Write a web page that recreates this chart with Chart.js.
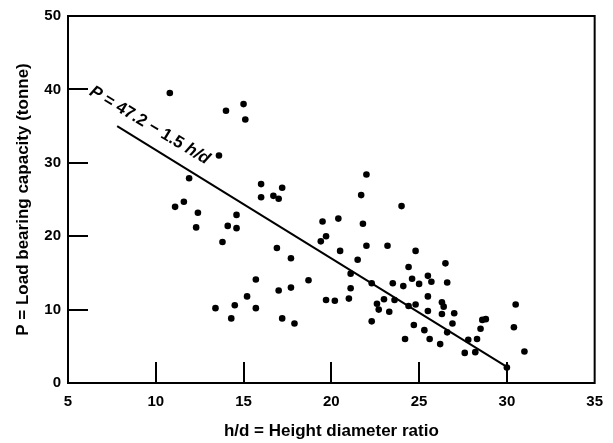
<!DOCTYPE html>
<html>
<head>
<meta charset="utf-8">
<style>
  html, body { margin: 0; padding: 0; background: #fff; }
  #wrap { width: 613px; height: 443px; }
</style>
</head>
<body>
<div id="wrap"><canvas id="chart-load"></canvas></div>
<script src="https://cdn.jsdelivr.net/npm/chart.js@4.4.0/dist/chart.umd.min.js"></script>
<script>
// h/d ratio and load bearing capacity (tonne) for each test
var hdRatio = [
    10.8, 14.0, 15.0, 15.1, 13.6, 11.9, 16.0, 17.2, 16.0, 16.7, 17.0, 11.1, 11.6, 12.4, 14.6,
    12.3, 14.1, 14.6, 13.8, 16.9, 17.7, 15.7, 18.7, 17.0, 17.7, 15.2, 13.4, 14.5, 15.7, 14.3,
    17.2, 17.9, 19.7, 20.2, 19.4, 19.7, 20.5, 22.0, 21.7, 24.0, 19.5, 20.4, 21.8, 22.0, 23.2,
    24.8, 21.5, 26.5, 24.4, 21.1, 24.6, 25.5, 25.7, 26.6, 25.0, 22.3, 23.5, 24.1, 21.1, 25.5,
    21.0, 23.0, 23.6, 26.3, 22.6, 22.7, 23.3, 24.4, 24.8, 26.4, 25.5, 26.3, 27.0, 22.3, 24.7,
    26.9, 25.3, 26.6, 28.6, 28.8, 28.5, 30.5, 30.4, 24.2, 25.6, 26.2, 27.8, 28.3, 27.6, 28.2,
    31.0, 30.0
];
var loadCapacity = [
    39.5, 37.1, 38.0, 35.9, 31.0, 27.9, 27.1, 26.6, 25.3, 25.5, 25.1, 24.0, 24.7, 23.2, 22.9,
    21.2, 21.4, 21.1, 19.2, 18.4, 17.0, 14.1, 14.0, 12.6, 13.0, 11.8, 10.2, 10.6, 10.2, 8.8,
    8.8, 8.1, 11.3, 11.2, 19.3, 20.0, 18.0, 28.4, 25.6, 24.1, 22.0, 22.4, 21.7, 18.7, 18.7,
    18.0, 16.8, 16.3, 15.8, 14.9, 14.2, 14.6, 13.8, 13.7, 13.5, 13.6, 13.6, 13.2, 12.9, 11.8,
    11.5, 11.4, 11.3, 11.0, 10.8, 10.0, 9.7, 10.5, 10.7, 10.4, 9.8, 9.4, 9.5, 8.4, 7.9,
    8.1, 7.2, 6.9, 8.6, 8.7, 7.4, 10.7, 7.6, 6.0, 6.0, 5.3, 5.9, 6.0, 4.1, 4.2,
    4.3, 2.1
];

// fitted line P = 47.2 - 1.5 h/d, end points as drawn
var fitRatio = [7.8, 30.0];
var fitLoad = [35.0, 2.2];

var xTicks = [5, 10, 15, 20, 25, 30, 35];
var yTicks = [0, 10, 20, 30, 40, 50];

var fitNote = { x: 6.3, y: 39.9, angle: 31 };

var font = 'Liberation Sans';

var points = hdRatio.map(function (v, i) { return { x: v, y: loadCapacity[i] }; });
var fitPoints = fitRatio.map(function (v, i) { return { x: v, y: fitLoad[i] }; });

// frame, inward tick marks and the equation along the line
var frameAndNotes = {
    id: 'frameAndNotes',
    afterDraw: function (chart) {
        var c = chart.ctx, a = chart.chartArea;
        var sx = chart.scales.x, sy = chart.scales.y;
        c.save();
        c.strokeStyle = '#000';
        c.lineWidth = 2;
        c.strokeRect(a.left, a.top, a.right - a.left, a.bottom - a.top);
        c.beginPath();
        xTicks.slice(1, -1).forEach(function (v) {
            var px = Math.round(sx.getPixelForValue(v));
            c.moveTo(px, a.bottom);
            c.lineTo(px, a.bottom - 21);
        });
        yTicks.slice(1, -1).forEach(function (v) {
            var py = Math.round(sy.getPixelForValue(v));
            c.moveTo(a.left, py);
            c.lineTo(a.left + 20, py);
        });
        c.stroke();

        var parts = [
            { t: 'P', s: 'italic bold' },
            { t: ' = 47.2 \u2212 1.5 ', s: 'bold' },
            { t: 'h/d', s: 'italic bold' }
        ];
        c.translate(sx.getPixelForValue(fitNote.x), sy.getPixelForValue(fitNote.y));
        c.rotate(fitNote.angle * Math.PI / 180);
        c.fillStyle = '#000';
        c.textBaseline = 'middle';
        c.textAlign = 'left';
        var off = 0;
        parts.forEach(function (p) {
            c.font = p.s + ' 17px "' + font + '"';
            c.fillText(p.t, off, 0);
            off += c.measureText(p.t).width;
        });
        c.restore();
    }
};

var ctx = document.getElementById('chart-load');
var loadChart = new Chart(ctx, {
    type: 'scatter',
    data: {
        datasets: [
            {
                data: points,
                backgroundColor: '#000',
                borderWidth: 0,
                pointRadius: 3.3
            },
            {
                type: 'line',
                data: fitPoints,
                borderColor: '#000',
                borderWidth: 2,
                pointRadius: 0,
                fill: false
            }
        ]
    },
    options: {
        responsive: true,
        maintainAspectRatio: false,
        animation: false,
        layout: { padding: { top: 15, right: 11, left: 0, bottom: 0 } },
        plugins: { legend: { display: false }, tooltip: { enabled: false } },
        scales: {
            x: {
                type: 'linear',
                min: 5, max: 35,
                afterFit: function (s) { s.height = 60; },
                afterBuildTicks: function (s) { s.ticks = xTicks.map(function (v) { return { value: v }; }); },
                grid: { display: false, drawTicks: false },
                border: { display: false },
                ticks: { color: '#000', padding: 10, maxRotation: 0, autoSkip: false,
                         font: { family: font, size: 15, weight: 'bold' } },
                title: {
                    display: true,
                    text: 'h/d = Height diameter ratio',
                    color: '#000',
                    padding: { top: 0, bottom: 1 },
                    font: { family: font, size: 17, weight: 'bold' }
                }
            },
            y: {
                type: 'linear',
                min: 0, max: 50,
                afterFit: function (s) { s.width = 68; },
                afterBuildTicks: function (s) { s.ticks = yTicks.map(function (v) { return { value: v }; }); },
                grid: { display: false, drawTicks: false },
                border: { display: false },
                ticks: { color: '#000', padding: 7, autoSkip: false,
                         font: { family: font, size: 15, weight: 'bold' } },
                title: {
                    display: true,
                    text: 'P = Load bearing capacity (tonne)',
                    color: '#000',
                    padding: { top: 13, bottom: 0 },
                    font: { family: font, size: 17, weight: 'bold' }
                }
            }
        }
    },
    plugins: [frameAndNotes]
});
</script>
</body>
</html>
